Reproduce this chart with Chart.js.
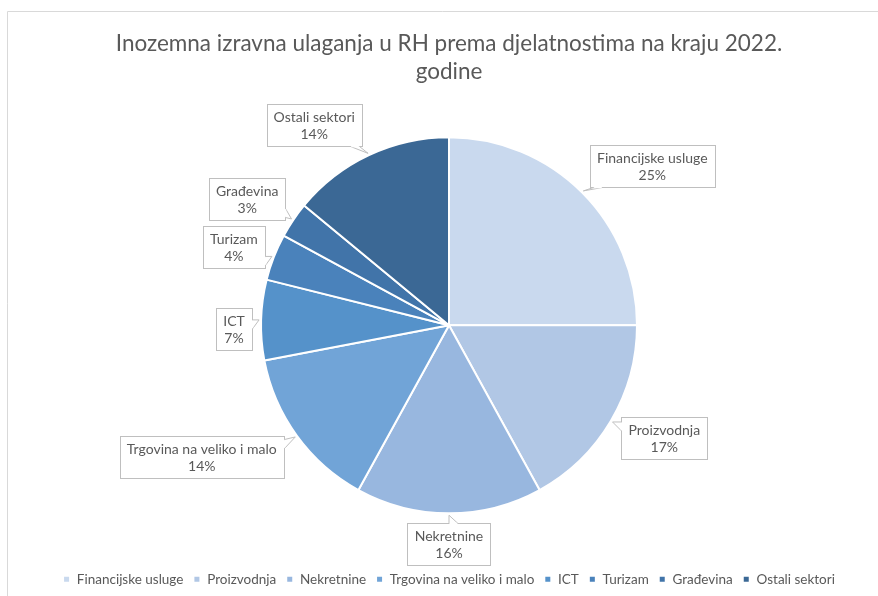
<!DOCTYPE html>
<html>
<head>
<meta charset="utf-8">
<script src="https://cdn.jsdelivr.net/npm/chart.js@4/dist/chart.umd.min.js"></script>
<style>
  html, body { margin: 0; padding: 0; background: #ffffff; }
  #wrap { position: relative; width: 878px; height: 596px; }
</style>
</head>
<body>
<div id="wrap"><canvas id="c" width="878" height="596"></canvas></div>
<script>
// ---- data ----
const titleLines = ['Inozemna izravna ulaganja u RH prema djelatnostima na kraju 2022.', 'godine'];
const categories = ['Financijske usluge', 'Proizvodnja', 'Nekretnine', 'Trgovina na veliko i malo', 'ICT', 'Turizam', 'Građevina', 'Ostali sektori'];
const shares = [25.0, 17.0, 16.0, 14.0, 6.9, 4.0, 3.1, 14.0];

// ---- styles ----
const sliceColors = ['#C9D9EE', '#B1C7E5', '#98B7DF', '#71A4D7', '#5592CA', '#4A82BB', '#4174A9', '#3B6895'];
// label callout placement: [angle shift from slice middle (deg), distance from centre (px)]
const labelPlacement = [[7, 258], [-3, 243], [0, 219], [8, 280], [-2.6, 215], [-1.2, 229], [-2, 238], [-8.8, 241]];
const FONT = 'Lato';
const TEXT = '#595959';

const total = shares.reduce((a, b) => a + b, 0);
const pctLabels = shares.map(v => Math.round(v / total * 100) + '%');

const frame = {
  id: 'frame',
  beforeDraw(chart) {
    const c = chart.ctx;
    c.save();
    c.strokeStyle = '#d9d9d9';
    c.lineWidth = 1;
    c.beginPath();
    c.moveTo(7.5, 596);
    c.lineTo(7.5, 11.5);
    c.lineTo(878, 11.5);
    c.stroke();
    c.restore();
  }
};

const callouts = {
  id: 'callouts',
  afterDatasetsDraw(chart) {
    const c = chart.ctx;
    const meta = chart.getDatasetMeta(0);
    c.save();
    c.font = '14px ' + FONT;
    c.textAlign = 'center';
    c.textBaseline = 'middle';
    const lineH = 17, padX = 7, padY = 4;
    meta.data.forEach((arc, i) => {
      const p = arc.getProps(['x', 'y', 'startAngle', 'endAngle', 'outerRadius'], true);
      const mid = (p.startAngle + p.endAngle) / 2;
      const [shift, dist] = labelPlacement[i];
      const a = mid + shift * Math.PI / 180;
      const cx = p.x + Math.cos(a) * dist;
      const cy = p.y + Math.sin(a) * dist;
      const lines = [categories[i], pctLabels[i]];
      const tw = Math.max(...lines.map(t => c.measureText(t).width));
      const w = Math.round(tw + 2 * padX), h = lines.length * lineH + 2 * padY;
      const L = Math.round(cx - w / 2) + 0.5, T = Math.round(cy - h / 2) + 0.5;
      const R = L + w, B = T + h;
      const tip = { x: p.x + Math.cos(mid) * (p.outerRadius + 2), y: p.y + Math.sin(mid) * (p.outerRadius + 2) };
      // box
      c.fillStyle = '#ffffff';
      c.strokeStyle = '#bfbfbf';
      c.lineWidth = 1;
      c.fillRect(L, T, w, h);
      c.strokeRect(L, T, w, h);
      // wedge
      const dx = tip.x - cx, dy = tip.y - cy;
      let b1, b2;
      const bw = 9;
      if (Math.abs(dx) / (w / 2) > Math.abs(dy) / (h / 2)) {
        const ex = dx > 0 ? R : L;
        const by = Math.min(Math.max(tip.y, T + 3), B - 3 - bw);
        b1 = { x: ex, y: by }; b2 = { x: ex, y: by + bw };
      } else {
        const ey = dy > 0 ? B : T;
        const bx = Math.min(Math.max(tip.x, L + 3), R - 3 - bw);
        b1 = { x: bx, y: ey }; b2 = { x: bx + bw, y: ey };
      }
      c.beginPath();
      c.moveTo(b1.x, b1.y); c.lineTo(tip.x, tip.y); c.lineTo(b2.x, b2.y); c.closePath();
      c.fill();
      c.beginPath();
      c.moveTo(b1.x, b1.y); c.lineTo(tip.x, tip.y); c.lineTo(b2.x, b2.y);
      c.stroke();
      c.strokeStyle = '#ffffff';
      c.lineWidth = 1.5;
      c.beginPath();
      const ix = (b2.x - b1.x) ? 1 : 0, iy = (b2.y - b1.y) ? 1 : 0;
      c.moveTo(b1.x + ix * 0.7, b1.y + iy * 0.7); c.lineTo(b2.x - ix * 0.7, b2.y - iy * 0.7);
      c.stroke();
      // text
      c.fillStyle = TEXT;
      lines.forEach((t, k) => c.fillText(t, cx, T + padY + lineH / 2 + k * lineH));
    });
    c.restore();
  }
};

new Chart(document.getElementById('c'), {
  type: 'pie',
  data: {
    labels: categories,
    datasets: [{
      data: shares,
      backgroundColor: sliceColors,
      borderColor: '#ffffff',
      borderWidth: 2,
      radius: 188
    }]
  },
  options: {
    responsive: false,
    animation: false,
    layout: { padding: { left: 20, right: 0, top: 0, bottom: 0 } },
    plugins: {
      title: {
        display: true,
        text: titleLines,
        color: TEXT,
        font: { family: FONT, size: 22.5, weight: 'normal', lineHeight: 1.245 },
        padding: { top: 30, bottom: 2 }
      },
      legend: {
        position: 'bottom',
        labels: {
          color: TEXT,
          font: { family: FONT, size: 13.5 },
          usePointStyle: true,
          pointStyle: 'rect',
          boxWidth: 7,
          boxHeight: 7,
          padding: 10
        }
      },
      tooltip: { enabled: false }
    }
  },
  plugins: [frame, callouts]
});
</script>
</body>
</html>
